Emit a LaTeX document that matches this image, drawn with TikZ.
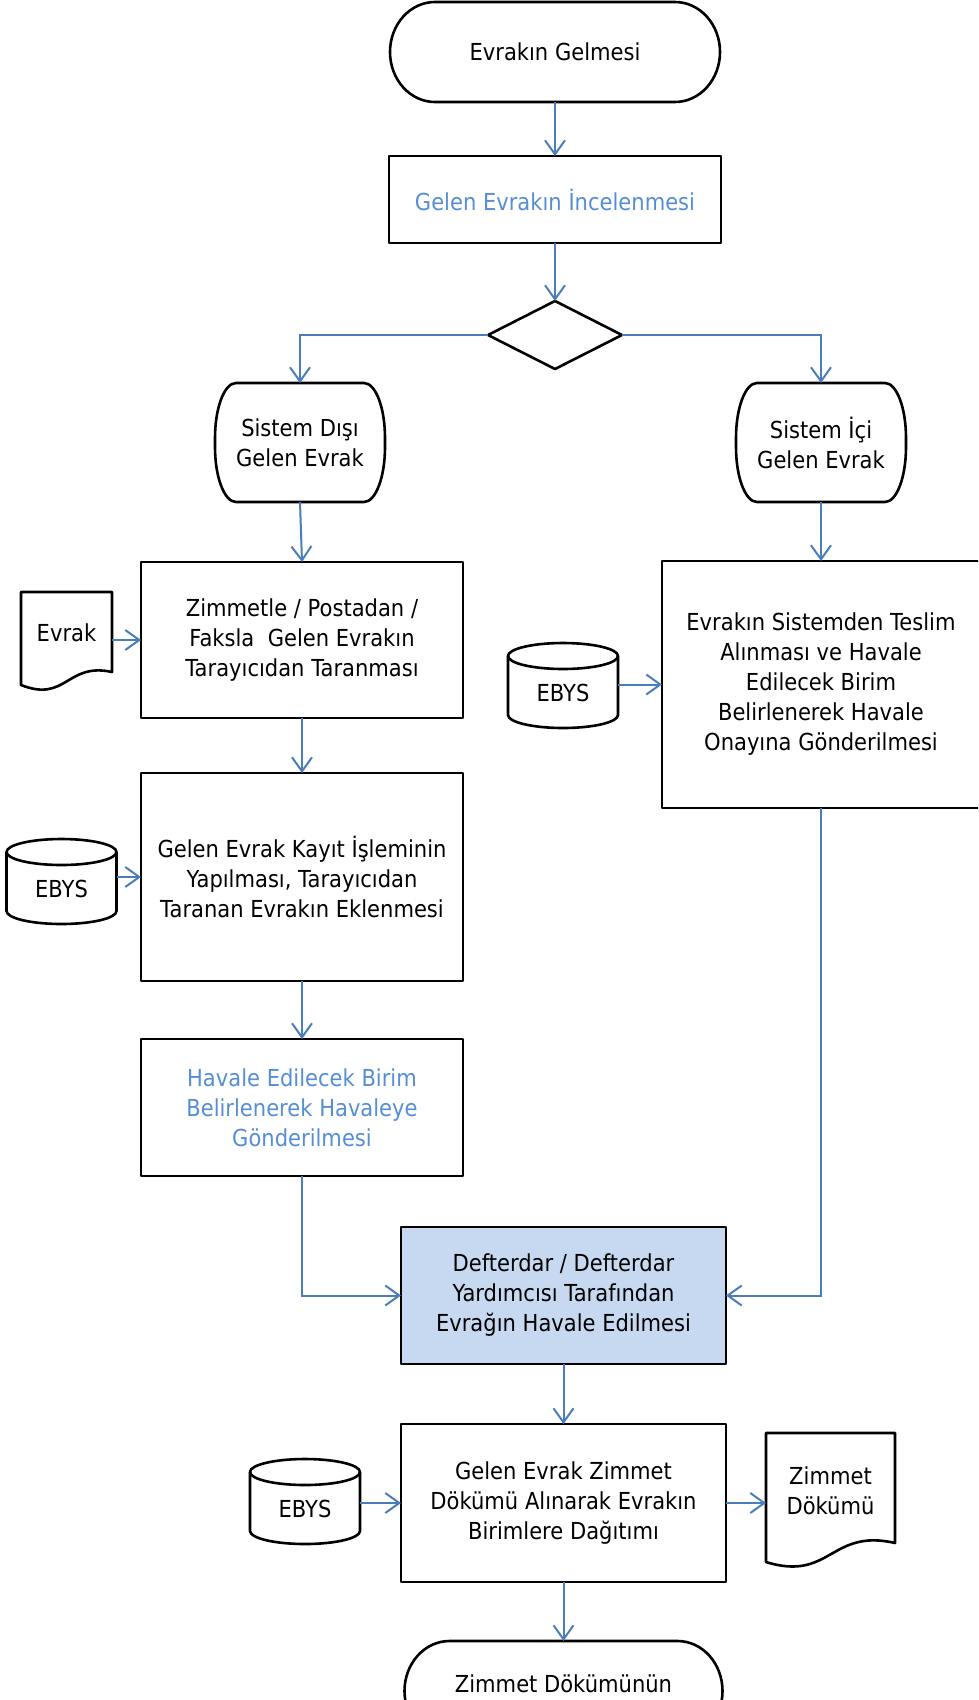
\documentclass[tikz,border=0pt]{standalone}
\usepackage{fontspec}
\setmainfont{DejaVu Sans}[FakeStretch=0.9]
\usetikzlibrary{arrows.meta,calc}
\definecolor{conblue}{RGB}{74,126,187}
\definecolor{txtblue}{RGB}{85,142,213}
\definecolor{deffill}{RGB}{198,217,241}
\newcommand\termoutline[3]{%
  \draw[shp] ($(#1.north west)+(#2,0)$) -- ($(#1.north east)+(-#2,0)$)
    arc[start angle=90,end angle=0,x radius=#2pt,y radius=#3pt]
    -- ($(#1.south east)+(0,#3)$)
    arc[start angle=0,end angle=-90,x radius=#2pt,y radius=#3pt]
    -- ($(#1.south west)+(#2,0)$)
    arc[start angle=270,end angle=180,x radius=#2pt,y radius=#3pt]
    -- ($(#1.north west)+(0,-#3)$)
    arc[start angle=180,end angle=90,x radius=#2pt,y radius=#3pt] -- cycle;}
\newcommand\cyloutline[1]{%
  \begin{scope}[shift={(#1.center)}]
    \draw[shp] (-55,37) -- (-55,-22) arc[start angle=180,end angle=360,x radius=55pt,y radius=13pt] -- (55,37);
    \draw[shp] (0,37) ellipse[x radius=55pt,y radius=13pt];
  \end{scope}}
\begin{document}
\begin{tikzpicture}[x=1pt,y=1pt,
  every node/.style={font=\fontsize{23.4pt}{30pt}\selectfont, align=center, inner sep=0pt, outer sep=0pt},
  shp/.style={draw=black, line width=2.6pt, line join=round},
  box/.style={shp, rectangle},
  holder/.style={rectangle, draw=none},
  conn/.style={draw=conblue, line width=2pt, -{Straight Barb[length=14pt,width=20pt]}},
  bluetxt/.style={text=txtblue}]
\useasboundingbox (0,0) rectangle (978,-1700);
\clip (0,0) rectangle (978,-1700);

% terminals
\node[holder, minimum width=330pt, minimum height=100pt] (start) at (555,-52) {Evrakın Gelmesi};
\termoutline{start}{45}{50}
\node[holder, minimum width=170pt, minimum height=119pt] (lt) at (300,-442.5) {Sistem Dışı\\Gelen Evrak};
\termoutline{lt}{21}{55}
\node[holder, minimum width=170pt, minimum height=119pt] (rt) at (821,-442.5) {Sistem İçi\\Gelen Evrak};
\termoutline{rt}{21}{55}
\node[holder, minimum width=318pt, minimum height=100pt] (endn) at (563.5,-1691) {};
\termoutline{endn}{45}{50}
\node[anchor=base] (endt) at (563.5,-1692) {Zimmet Dökümünün};

% process boxes
\node[box, bluetxt, minimum width=332pt, minimum height=87pt] (b2) at (555,-199.5) {Gelen Evrakın İncelenmesi};
\node[holder, minimum width=134pt, minimum height=68pt] (dia) at (555,-335) {};
\draw[shp] (dia.north) -- (dia.east) -- (dia.south) -- (dia.west) -- cycle;
\node[box, minimum width=322pt, minimum height=156pt] (b6) at (302,-640) {Zimmetle / Postadan /\\Faksla~ Gelen Evrakın\\Tarayıcıdan Taranması};
\node[box, minimum width=322pt, minimum height=208pt] (b3) at (302,-877) {Gelen Evrak Kayıt İşleminin\\Yapılması, Tarayıcıdan\\Taranan Evrakın Eklenmesi};
\node[box, bluetxt, minimum width=322pt, minimum height=137pt] (b4) at (302,-1107.5) {Havale Edilecek Birim\\Belirlenerek Havaleye\\Gönderilmesi};
\node[box, minimum width=318pt, minimum height=247pt] (rb) at (821,-684.5) {Evrakın Sistemden Teslim\\Alınması ve Havale\\Edilecek Birim\\Belirlenerek Havale\\Onayına Gönderilmesi};
\node[box, fill=deffill, minimum width=325pt, minimum height=137pt] (def) at (563.5,-1295.5) {Defterdar / Defterdar\\Yardımcısı Tarafından\\Evrağın Havale Edilmesi};
\node[box, minimum width=325pt, minimum height=158pt] (zb) at (563.5,-1503) {Gelen Evrak Zimmet\\Dökümü Alınarak Evrakın\\Birimlere Dağıtımı};

% documents
\node (ev) at (66.5,-633) {Evrak};
\begin{scope}[shift={(ev.center)}]
  \draw[shp] (-45.5,41) -- (45.5,41) -- (45.5,-39) .. controls (0,-29) and (0,-70) .. (-45.5,-52) -- cycle;
\end{scope}
\coordinate (evr) at ($(ev.center)+(45.5,0)$);
\node (zd) at (830.5,-1491) {Zimmet\\Dökümü};
\begin{scope}[shift={(zd.center)}]
  \draw[shp] (-64.5,58) -- (64.5,58) -- (64.5,-52) .. controls (0,-37) and (0,-91) .. (-64.5,-71) -- cycle;
\end{scope}
\coordinate (zdl) at ($(zd.center)+(-64.5,0)$);

% databases
\node (e1) at (61.5,-889) {EBYS};
\cyloutline{e1}
\coordinate (e1r) at ($(e1.center)+(55,0)$);
\node (e2) at (563,-693) {EBYS};
\cyloutline{e2}
\coordinate (e2r) at ($(e2.center)+(55,0)$);
\node (e3) at (305,-1509) {EBYS};
\cyloutline{e3}
\coordinate (e3r) at ($(e3.center)+(55,0)$);

% connectors
\draw[conn] (start.south) -- (b2.north);
\draw[conn] (b2.south) -- (dia.north);
\draw[conn] (dia.west) -| (lt.north);
\draw[conn] (dia.east) -| (rt.north);
\draw[conn] (lt.south) -- (b6.north);
\draw[conn] (rt.south) -- (rb.north);
\draw[conn] (evr |- b6.west) -- (b6.west);
\draw[conn] (b6.south) -- (b3.north);
\draw[conn] (e1r |- b3.west) -- (b3.west);
\draw[conn] (b3.south) -- (b4.north);
\draw[conn] (e2r |- rb.west) -- (rb.west);
\draw[conn] (b4.south) |- (def.west);
\draw[conn] (rb.south) |- (def.east);
\draw[conn] (def.south) -- (zb.north);
\draw[conn] (e3r |- zb.west) -- (zb.west);
\draw[conn] (zb.east) -- (zb.east -| zdl);
\draw[conn] (zb.south) -- (endn.north);
\end{tikzpicture}
\end{document}
